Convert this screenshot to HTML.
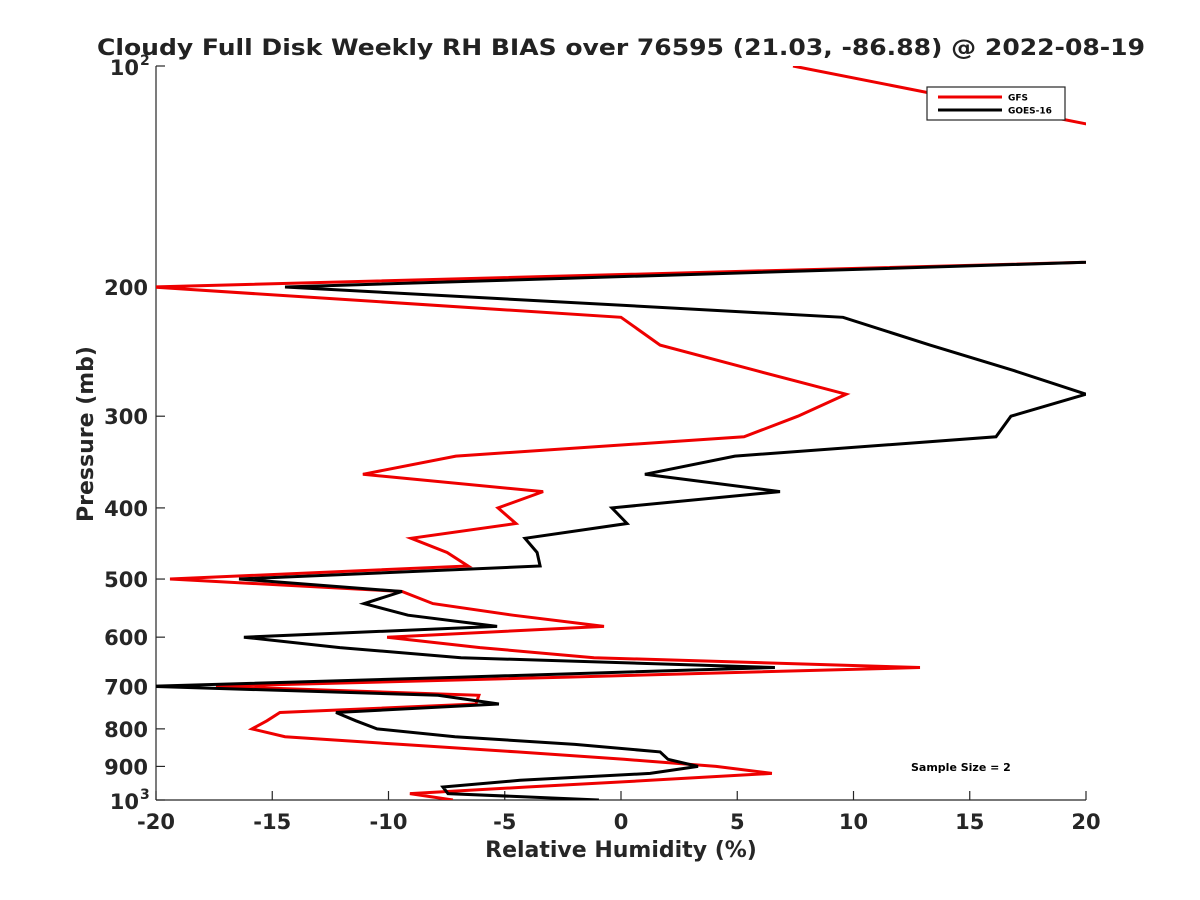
<!DOCTYPE html>
<html><head><meta charset="utf-8"><style>
html,body{margin:0;padding:0;background:#fff;}
svg{display:block;font-family:"DejaVu Sans","Liberation Sans",sans-serif;}
</style></head><body>
<svg id="chart" width="1200" height="900" viewBox="0 0 1200 900" xmlns="http://www.w3.org/2000/svg">
<rect width="1200" height="900" fill="#fff"/>
<defs><clipPath id="plotclip"><rect x="156" y="66" width="930" height="734"/></clipPath></defs>
<text x="97" y="55" font-size="22" font-weight="bold" fill="#222" textLength="1048" lengthAdjust="spacingAndGlyphs">Cloudy Full Disk Weekly RH BIAS over 76595 (21.03, -86.88) @ 2022-08-19</text>
<g id="axes"></g>
<g id="series" clip-path="url(#plotclip)"></g>
<text x="621" y="857" text-anchor="middle" font-size="22" font-weight="bold" fill="#262626">Relative Humidity (%)</text>
<text transform="translate(93,434) rotate(-90)" text-anchor="middle" font-size="22" font-weight="bold" fill="#262626">Pressure (mb)</text>
<g>
<rect x="927" y="87" width="138" height="33" fill="#fff" stroke="#262626" stroke-width="1.2"/>
<line x1="938" y1="97" x2="1002" y2="97" stroke="#e00" stroke-width="3"/>
<text x="1008" y="100.5" font-size="9" font-weight="bold">GFS</text>
<line x1="938" y1="110" x2="1002" y2="110" stroke="#000" stroke-width="3"/>
<text x="1008" y="113.5" font-size="9" font-weight="bold">GOES-16</text>
</g>
<text x="911" y="771" font-size="11" font-weight="bold">Sample Size = 2</text>
</svg>
<script>
const pressureLevels = [100,120,140,160,180,200,220,240,260,280,300,320,340,360,380,400,420,440,460,480,500,520,540,560,580,600,620,640,660,680,700,720,740,760,780,800,820,840,860,880,900,920,940,960,980,1000];
const gfsValues = [7.4,20.05,40,40,34.4,-20.2,0.0,1.68,5.81,9.68,7.61,5.29,-7.10,-11.1,-3.35,-5.29,-4.52,-9.03,-7.48,-6.58,-19.4,-9.42,-8.09,-4.65,-0.73,-10.06,-6.06,-1.16,12.86,-2.28,-17.42,-6.11,-6.24,-14.67,-15.23,-15.87,-14.45,-9.46,-4.47,0.13,4.09,6.49,1.25,-4.04,-9.08,-7.23];
const goesValues = [40,40,40,40,32.4,-14.45,9.55,13.29,16.90,20.0,16.77,16.13,4.90,1.03,6.84,-0.39,0.26,-4.13,-3.61,-3.48,-16.43,-9.42,-11.05,-9.16,-5.33,-16.22,-12.09,-6.88,6.62,-6.84,-20.26,-7.87,-5.25,-12.26,-11.4,-10.49,-7.14,-1.98,1.68,2.02,3.31,1.25,-4.34,-7.66,-7.44,-0.95];
const xTicks = [-20,-15,-10,-5,0,5,10,15,20];
const yTickValues = [200,300,400,500,600,700,800,900];

const NS = "http://www.w3.org/2000/svg";
const X0=156, X1=1086, Y0=66, Y1=800;
function xs(v){return X0+(v+20)/40*(X1-X0);}
function ys(p){return Y0+(Math.log10(p)-2)*(Y1-Y0);}
function mk(tag,attrs,parent){const e=document.createElementNS(NS,tag);for(const k in attrs)e.setAttribute(k,attrs[k]);parent.appendChild(e);return e;}
const axes=document.getElementById('axes');
const series=document.getElementById('series');

const xAxis=mk('line',{x1:X0,y1:Y1,x2:X1,y2:Y1,stroke:'#262626','stroke-width':1.2},axes);


const yAxis=mk('line',{x1:X0,y1:Y0,x2:X0,y2:Y1,stroke:'#262626','stroke-width':1.2},axes);



xTicks.forEach(v=>{
  const x=xs(v);
  const t=mk('line',{x1:x,y1:Y1,x2:x,y2:Y1-9,stroke:'#262626','stroke-width':1.2},axes);
  
  
  const l=mk('text',{x:x,y:Y1+29,'text-anchor':'middle','font-size':21,'font-weight':'bold',fill:'#262626'},axes);
  l.textContent=String(v);
  
  
});
yTickValues.forEach(p=>{
  const y=ys(p);
  const t=mk('line',{x1:X0,y1:y,x2:X0+9,y2:y,stroke:'#262626','stroke-width':1.2},axes);
  
  
  const l=mk('text',{x:X0-8,y:y+8,'text-anchor':'end','font-size':21,'font-weight':'bold',fill:'#262626'},axes);
  l.textContent=String(p);
  
  
});
[[100,'2'],[1000,'3']].forEach(([p,e])=>{
  const y=ys(p);
  const t=mk('line',{x1:X0,y1:y,x2:X0+9,y2:y,stroke:'#262626','stroke-width':1.2},axes);
  
  
  const l=mk('text',{x:X0-17,y:y+9,'text-anchor':'end','font-size':21,'font-weight':'bold',fill:'#262626'},axes);
  l.textContent='10';
  
  
  const s=mk('text',{x:X0-16,y:y-1,'text-anchor':'start','font-size':14,'font-weight':'bold',fill:'#262626'},axes);
  s.textContent=e;
  
  
});

function drawLine(vals,color,name){
  const pts=vals.map((v,i)=>xs(v).toFixed(1)+','+ys(pressureLevels[i]).toFixed(1)).join(' ');
  const pl=mk('polyline',{points:pts,fill:'none',stroke:color,'stroke-width':3,'stroke-linejoin':'miter'},series);
  
  
}
drawLine(gfsValues,'#e00','gfs-line');
drawLine(goesValues,'#000','goes16-line');
</script>
</body></html>
